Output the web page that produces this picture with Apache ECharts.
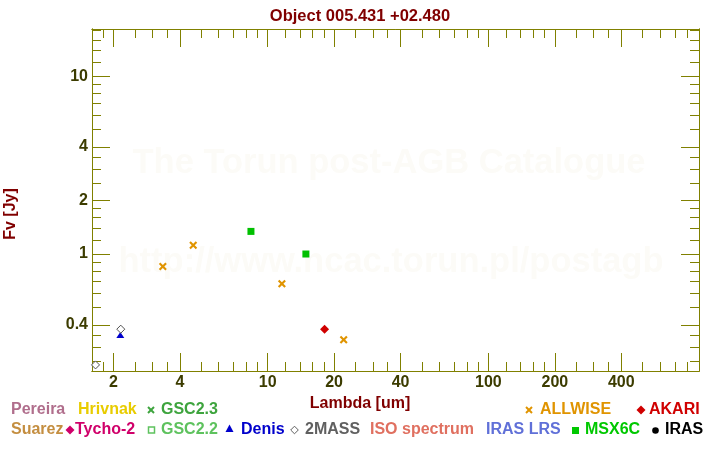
<!DOCTYPE html>
<html>
<head>
<meta charset="utf-8">
<script src="https://cdn.jsdelivr.net/npm/echarts@6/dist/echarts.min.js"></script>
<style>html,body{margin:0;padding:0;background:#fff}#c{width:720px;height:450px}</style>
</head>
<body>
<div id="c"></div>
<script>
// ---- data ----
const title = 'Object 005.431 +02.480';
const xMajorTicks = [2, 4, 10, 20, 40, 100, 200, 400];
const xMinorTicks = [1.8, 2.5, 3, 3.5, 5, 6, 7, 8, 9, 12, 14, 16, 18, 25, 30, 35, 50, 60, 70, 80, 90, 120, 140, 160, 180, 250, 300, 350, 500, 600, 700, 800];
const yMajorTicks = [0.4, 1, 2, 4, 10];
const yMinorTicks = [0.25, 0.3, 0.35, 0.5, 0.6, 0.7, 0.8, 0.9, 1.2, 1.4, 1.6, 1.8, 2.5, 3, 3.5, 5, 6, 7, 8, 9, 12, 14, 16, 18];
const allwiseLambda = [3.35, 4.6, 11.6, 22.1];
const allwiseFlux = [0.85, 1.12, 0.68, 0.33];
const msxLambda = [8.4, 14.9];
const msxFlux = [1.34, 1.0];
const akariLambda = [18.1];
const akariFlux = [0.378];
const twomassLambda = [1.66, 2.16];
const twomassFlux = [0.238, 0.378];
const denisLambda = [2.15];
const denisFlux = [0.351];

const olive = '#808000';
const labCol = '#3c3c00';
const font = '"Liberation Sans", Arial, sans-serif';

function pairs(xs, ys) { return xs.map((x, i) => [x, ys[i]]); }
const fmt = v => String(+Number(v).toPrecision(3));

function xAx(pos, ticks, len, labels) {
  return {
    type: 'log', logBase: 10, min: 1.6, max: 900, position: pos,
    axisLine: { show: true, lineStyle: { color: olive, width: 1 } },
    axisTick: { show: true, inside: true, length: len, customValues: ticks, lineStyle: { color: olive, width: 1 } },
    axisLabel: labels ? { show: true, customValues: ticks, formatter: fmt, color: labCol, fontWeight: 'bold', fontSize: 16, fontFamily: font, margin: 4 } : { show: false },
    splitLine: { show: false }, minorTick: { show: false }
  };
}
function yAx(pos, ticks, len, labels) {
  return {
    type: 'log', logBase: 10, min: 0.22, max: 18.4, position: pos,
    axisLine: { show: true, lineStyle: { color: olive, width: 1 } },
    axisTick: { show: true, inside: true, length: len, customValues: ticks, lineStyle: { color: olive, width: 1 } },
    axisLabel: labels ? { show: true, customValues: ticks, formatter: fmt, color: labCol, fontWeight: 'bold', fontSize: 16, fontFamily: font, margin: 4 } : { show: false },
    splitLine: { show: false }, minorTick: { show: false }
  };
}

const crossPath = 'path://M0,1.5L1.5,0L4,2.5L6.5,0L8,1.5L5.5,4L8,6.5L6.5,8L4,5.5L1.5,8L0,6.5L2.5,4Z';

function legendText(x, y, text, color) {
  return { type: 'text', x: x, y: y, style: { text: text, fill: color, font: 'bold 16px ' + font, textVerticalAlign: 'middle' } };
}
function legendCross(cx, cy, color) {
  const s = 3;
  return { type: 'group', children: [
    { type: 'line', shape: { x1: cx - s, y1: cy - s, x2: cx + s, y2: cy + s }, style: { stroke: color, lineWidth: 2 } },
    { type: 'line', shape: { x1: cx - s, y1: cy + s, x2: cx + s, y2: cy - s }, style: { stroke: color, lineWidth: 2 } }
  ] };
}
function legendDiamond(cx, cy, r, fill, stroke) {
  return { type: 'polygon', shape: { points: [[cx, cy - r], [cx + r, cy], [cx, cy + r], [cx - r, cy]] },
    style: { fill: fill, stroke: stroke || null, lineWidth: 1 } };
}

const chart = echarts.init(document.getElementById('c'), null, { renderer: 'canvas' });
chart.setOption({
  animation: false,
  backgroundColor: '#fff',
  title: { text: title, left: 'center', top: 3, textStyle: { color: '#800000', fontWeight: 'bold', fontSize: 16.5, fontFamily: font } },
  grid: { left: 92, right: 21, top: 29, bottom: 79, containLabel: false },
  xAxis: [
    xAx('bottom', xMajorTicks, 18, true),
    xAx('bottom', xMinorTicks, 9, false),
    xAx('top', xMajorTicks, 18, false),
    xAx('top', xMinorTicks, 9, false)
  ],
  yAxis: [
    yAx('left', yMajorTicks, 18, true),
    yAx('left', yMinorTicks, 9, false),
    yAx('right', yMajorTicks, 18, false),
    yAx('right', yMinorTicks, 9, false)
  ],
  graphic: [
    { type: 'text', x: 389, y: 163, z: -10, silent: true, style: { text: 'The Torun post-AGB Catalogue', fill: '#fcfbf7', font: 'bold 34.5px ' + font, textAlign: 'center', textVerticalAlign: 'middle' } },
    { type: 'text', x: 391, y: 262, z: -10, silent: true, style: { text: 'http://www.ncac.torun.pl/postagb', fill: '#fcfbf7', font: 'bold 34.5px ' + font, textAlign: 'center', textVerticalAlign: 'middle' } },
    { type: 'text', x: 11, y: 214, rotation: Math.PI / 2, style: { text: 'Fv [Jy]', fill: '#800000', font: 'bold 16px ' + font, textAlign: 'center', textVerticalAlign: 'middle' } },
    { type: 'text', x: 360, y: 404, style: { text: 'Lambda [um]', fill: '#800000', font: 'bold 16px ' + font, textAlign: 'center', textVerticalAlign: 'middle' } },
    legendText(11, 410, 'Pereira', '#b06e8c'),
    legendText(78, 410, 'Hrivnak', '#e8cc00'),
    legendCross(151, 410, '#3ea43e'),
    legendText(161, 410, 'GSC2.3', '#3ea43e'),
    legendCross(529, 410, '#e09400'),
    legendText(540, 410, 'ALLWISE', '#e09400'),
    legendDiamond(641, 410, 4.5, '#d00000'),
    legendText(649, 410, 'AKARI', '#d00000'),
    legendText(11, 430, 'Suarez', '#c48e40'),
    legendDiamond(70, 430, 4.5, '#d0006a'),
    legendText(75, 430, 'Tycho-2', '#d0006a'),
    { type: 'rect', shape: { x: 148.5, y: 427, width: 6, height: 6 }, style: { fill: 'none', stroke: '#5ec25e', lineWidth: 1.5 } },
    legendText(161, 430, 'GSC2.2', '#5ec25e'),
    { type: 'polygon', shape: { points: [[229.5, 424.5], [233.5, 432], [225.5, 432]] }, style: { fill: '#0000cc' } },
    legendText(241, 430, 'Denis', '#0000cc'),
    legendDiamond(294.5, 430, 3.8, '#ffffff', '#606060'),
    legendText(305, 430, '2MASS', '#606060'),
    legendText(370, 430, 'ISO spectrum', '#e07060'),
    legendText(486, 430, 'IRAS LRS', '#6070d8'),
    { type: 'rect', shape: { x: 572, y: 427, width: 7, height: 7 }, style: { fill: '#00c800' } },
    legendText(585, 430, 'MSX6C', '#00c800'),
    { type: 'circle', shape: { cx: 655.5, cy: 430.5, r: 3.3 }, style: { fill: '#000000' } },
    legendText(665, 430, 'IRAS', '#000000')
  ],
  series: [
    { type: 'scatter', name: 'ALLWISE', data: pairs(allwiseLambda, allwiseFlux), symbol: crossPath, symbolSize: 8, itemStyle: { color: '#e09400', opacity: 1 } },
    { type: 'scatter', name: 'MSX6C', data: pairs(msxLambda, msxFlux), symbol: 'rect', symbolSize: 7, itemStyle: { color: '#00c000', opacity: 1 } },
    { type: 'scatter', name: 'AKARI', data: pairs(akariLambda, akariFlux), symbol: 'diamond', symbolSize: 9, itemStyle: { color: '#d00000', opacity: 1 } },
    { type: 'scatter', name: 'Denis', data: pairs(denisLambda, denisFlux), symbol: 'triangle', symbolSize: [8, 6], itemStyle: { color: '#0000cc', opacity: 1 } },
    { type: 'scatter', name: '2MASS', data: pairs(twomassLambda, twomassFlux), symbol: 'diamond', symbolSize: 8, itemStyle: { color: '#ffffff', borderColor: '#505050', borderWidth: 1, opacity: 1 } }
  ]
});
</script>
</body>
</html>
